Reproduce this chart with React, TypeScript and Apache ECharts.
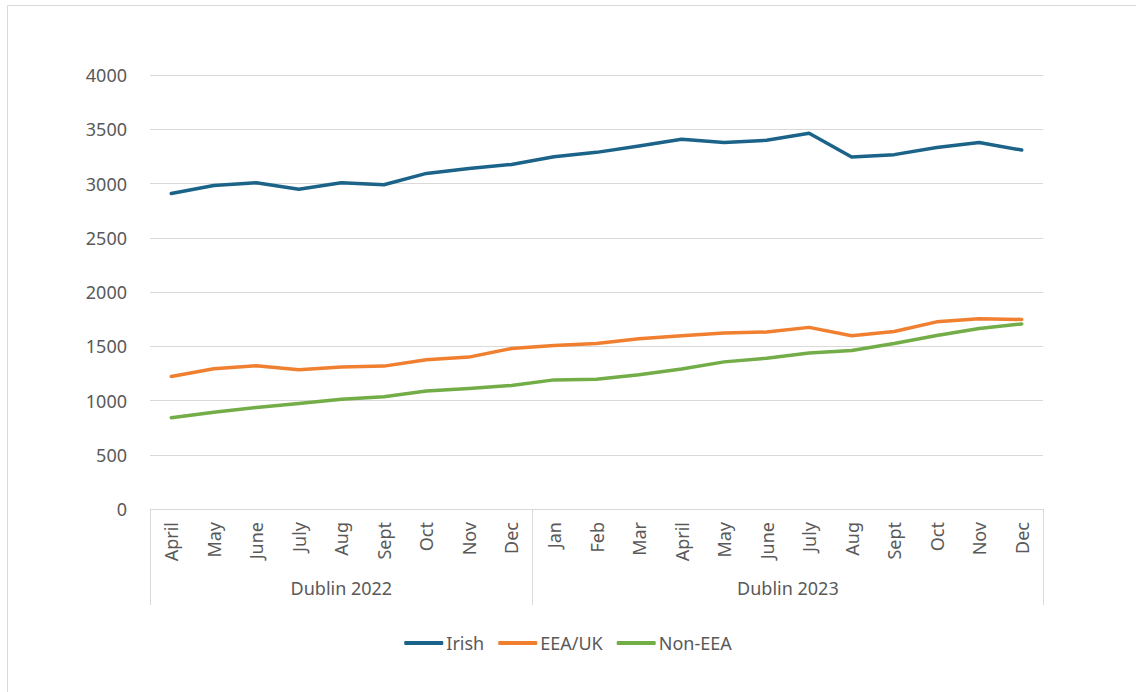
import React, { useEffect, useRef } from "react";
import * as echarts from "echarts";

// Month labels, grouped by year
const months2022 = ["April", "May", "June", "July", "Aug", "Sept", "Oct", "Nov", "Dec"];
const months2023 = ["Jan", "Feb", "Mar", "April", "May", "June", "July", "Aug", "Sept", "Oct", "Nov", "Dec"];
const groupNames = ["Dublin 2022", "Dublin 2023"];

// Series values
const irish = [2907, 2981, 3006, 2947, 3006, 2988, 3093, 3139, 3176, 3247, 3287, 3345, 3407, 3377, 3398, 3463, 3244, 3266, 3331, 3377, 3308];
const eeaUk = [1221, 1292, 1320, 1283, 1308, 1317, 1376, 1400, 1479, 1507, 1525, 1569, 1597, 1622, 1631, 1674, 1597, 1636, 1725, 1753, 1747];
const nonEea = [842, 891, 935, 972, 1012, 1034, 1087, 1111, 1139, 1190, 1196, 1238, 1290, 1356, 1390, 1438, 1460, 1525, 1599, 1664, 1706];

const seriesNames = ["Irish", "EEA/UK", "Non-EEA"];
const colors = ["#1B6388", "#F07F30", "#72AD47"];

const TEXT = "#595959";
const GRID = "#D9D9D9";
const FONT = "'Noto Sans', 'Open Sans', sans-serif";
const FS = 18;

export default function App() {
  const ref = useRef<HTMLDivElement>(null);

  useEffect(() => {
    if (!ref.current) return;
    const chart = echarts.init(ref.current, undefined, { renderer: "svg" });

    const groups = [months2022, months2023];
    const months = groups.flat();
    const groupOfMonth: string[] = [];
    const groupStarts: number[] = [];
    groups.forEach((g, gi) => {
      groupStarts.push(groupOfMonth.length);
      g.forEach(() => groupOfMonth.push(groupNames[gi]));
    });

    // label index for each group and whether it sits half a band to the right
    const groupLabelIdx = new Map<number, boolean>();
    groups.forEach((g, gi) => {
      const mid = groupStarts[gi] + (g.length - 1) / 2;
      groupLabelIdx.set(Math.floor(mid), mid % 1 !== 0);
    });

    const gridLeft = 150;
    const gridRight = 93;
    const band = (1136 - gridLeft - gridRight) / months.length;

    chart.setOption({
      animation: false,
      textStyle: { fontFamily: FONT },
      graphic: [
        {
          type: "rect",
          shape: { x: 7.5, y: 5.5, width: 1200, height: 800 },
          style: { fill: "none", stroke: GRID, lineWidth: 1 },
          silent: true,
        },
      ],
      grid: { left: gridLeft, right: gridRight, top: 75, bottom: 183, containLabel: false },
      legend: {
        data: seriesNames,
        left: "center",
        top: 629,
        icon: "roundRect",
        itemWidth: 39,
        itemHeight: 4,
        itemGap: 14,
        textStyle: { color: TEXT, fontSize: FS, fontFamily: FONT, padding: [0, 0, 0, -2] },
      },
      xAxis: [
        {
          type: "category",
          data: months,
          boundaryGap: true,
          axisLine: { show: true, lineStyle: { color: GRID, width: 1 } },
          axisTick: { show: false },
          axisLabel: {
            rotate: 90,
            margin: 13,
            color: TEXT,
            fontSize: FS,
            fontFamily: FONT,
            interval: 0,
          },
        },
        {
          type: "category",
          data: groupOfMonth,
          position: "bottom",
          boundaryGap: true,
          axisLine: { show: false },
          axisTick: {
            show: true,
            length: 96,
            interval: (i: number) => groupStarts.includes(i),
            lineStyle: { color: GRID, width: 1 },
          },
          axisLabel: {
            margin: 70,
            color: TEXT,
            fontSize: FS,
            fontFamily: FONT,
            interval: (i: number) => groupLabelIdx.has(i),
            formatter: (v: string, i: number) =>
              groupLabelIdx.get(i) ? `{s|${v}}` : `{c|${v}}`,
            rich: {
              s: { padding: [0, 0, 0, band], color: TEXT, fontSize: FS, fontFamily: FONT },
              c: { color: TEXT, fontSize: FS, fontFamily: FONT },
            },
          },
        },
      ],
      yAxis: {
        type: "value",
        min: 0,
        max: 4000,
        interval: 500,
        axisLine: { show: false },
        axisTick: { show: false },
        axisLabel: {
          color: TEXT,
          fontSize: FS,
          margin: 23,
          fontFamily: FONT,
          formatter: (v: number) => String(v),
        },
        splitLine: { lineStyle: { color: GRID, width: 1 } },
      },
      series: [irish, eeaUk, nonEea].map((d, i) => ({
        name: seriesNames[i],
        type: "line",
        data: d,
        xAxisIndex: 0,
        showSymbol: false,
        symbol: "none",
        color: colors[i],
        lineStyle: { width: 3.5, color: colors[i], cap: "round", join: "round" },
      })),
    });

    return () => chart.dispose();
  }, []);

  return (
    <div
      ref={ref}
      style={{ position: "fixed", left: 0, top: 0, width: 1136, height: 692, background: "#fff" }}
    />
  );
}
